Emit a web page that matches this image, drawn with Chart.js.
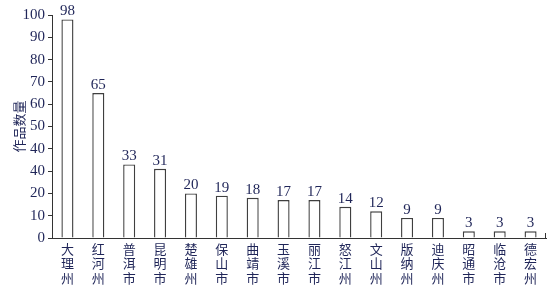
<!DOCTYPE html>
<html>
<head>
<meta charset="utf-8">
<script src="https://cdn.jsdelivr.net/npm/chart.js@4"></script>
<style>
  html, body { margin: 0; padding: 0; background: #fff; }
  #wrap { width: 558px; height: 289px; }
</style>
</head>
<body>
<div id="wrap"><canvas id="c" width="558" height="289"></canvas></div>
<script>
// Regions (each name split into characters so it stacks vertically)
const regions = ['大理州', '红河州', '普洱市', '昆明市', '楚雄州', '保山市', '曲靖市', '玉溪市',
                 '丽江市', '怒江州', '文山州', '版纳州', '迪庆州', '昭通市', '临沧市', '德宏州'];
// Number of works per region
const works = [98, 65, 33, 31, 20, 19, 18, 17, 17, 14, 12, 9, 9, 3, 3, 3];
// Y-axis tick labels, 0 to 100 in steps of 10 (as printed)
const yTickLabels = ['0', '10', '20', '40', '40', '50', '60', '70', '80', '90', '100'];

const textColor = '#1f2558';
const axisColor = '#333333';
const serif = "'Liberation Serif', 'Times New Roman', serif";
const cjk = "'Noto Sans CJK SC', sans-serif";

// Value labels above each bar + a small closing tick at the end of the x axis
const barValues = {
  id: 'barValues',
  afterDatasetsDraw(chart) {
    const ctx = chart.ctx;
    const meta = chart.getDatasetMeta(0);
    ctx.save();
    ctx.font = '15px ' + serif;
    ctx.fillStyle = textColor;
    ctx.textAlign = 'center';
    ctx.textBaseline = 'alphabetic';
    meta.data.forEach((bar, i) => {
      ctx.fillText(String(chart.data.datasets[0].data[i]), bar.x, bar.y - 4);
    });
    const a = chart.chartArea;
    ctx.strokeStyle = axisColor;
    ctx.lineWidth = 1;
    ctx.beginPath();
    ctx.moveTo(a.right - 0.5, a.bottom);
    ctx.lineTo(a.right - 0.5, a.bottom - 5);
    ctx.stroke();
    ctx.restore();
  }
};

new Chart(document.getElementById('c'), {
  type: 'bar',
  data: {
    labels: regions.map(r => r.split('')),
    datasets: [{
      data: works,
      backgroundColor: '#ffffff',
      borderColor: '#3f3f3f',
      borderWidth: 1.4,
      barPercentage: 0.39,
      categoryPercentage: 1.0
    }]
  },
  options: {
    responsive: false,
    animation: false,
    devicePixelRatio: 1,
    layout: { padding: { top: 15, right: 12, left: 0, bottom: 0 } },
    plugins: { legend: { display: false }, tooltip: { enabled: false } },
    scales: {
      x: {
        grid: { display: false, drawTicks: false },
        border: { display: true, color: axisColor, width: 1 },
        ticks: {
          color: textColor,
          font: { family: cjk, size: 13, lineHeight: 1.1 },
          padding: 4,
          maxRotation: 0,
          autoSkip: false
        },
        afterFit(scale) { scale.height = 51; }
      },
      y: {
        min: 0,
        max: 100,
        grid: { drawOnChartArea: false, drawTicks: true, tickLength: 4, color: axisColor },
        border: { display: true, color: axisColor, width: 1 },
        ticks: {
          stepSize: 10,
          color: textColor,
          font: { family: serif, size: 15 },
          padding: 3,
          callback: (v, i) => yTickLabels[i]
        },
        title: {
          display: true,
          text: '作品数量',
          color: textColor,
          font: { family: cjk, size: 13 },
          padding: { top: 11, bottom: 0 }
        },
        afterFit(scale) { scale.width = 52; }
      }
    }
  },
  plugins: [barValues]
});
</script>
</body>
</html>
